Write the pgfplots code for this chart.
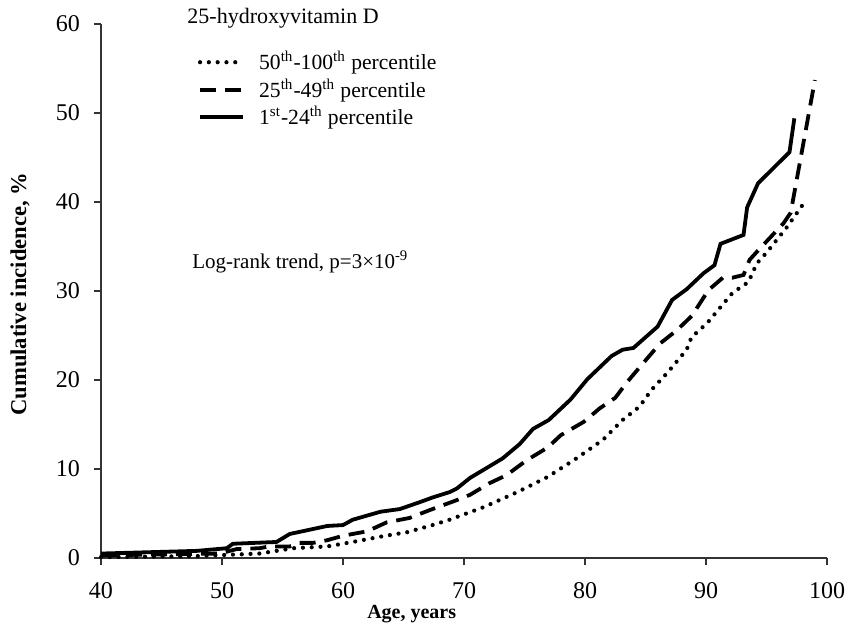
\documentclass[border=0pt]{standalone}
\usepackage{fontspec}
\setmainfont{Liberation Serif}
\usepackage{pgfplots}
\pgfplotsset{compat=1.18}

\begin{document}
\begin{tikzpicture}
\begin{axis}[
    scale only axis,
    width=363pt, height=267pt,
    xmin=40, xmax=100, ymin=0, ymax=60,
    xtick={40,50,...,100}, ytick={0,10,...,60},
    axis lines=left,
    axis line style={-, black!80, line width=0.9pt},
    tick style={black!80, line width=0.9pt},
    tick align=outside,
    major tick length=3.5pt,
    minor tick num=0,
    clip=false,
    /pgf/number format/assume math mode=true,
    tick label style={font=\fontsize{12}{14}\selectfont},
    xticklabel style={yshift=-5pt},
    yticklabel style={xshift=-3.5pt},
    xlabel={Age, years},
    ylabel={Cumulative incidence, \%},
    xlabel style={font=\fontsize{10}{12}\selectfont\bfseries,
        at={([yshift=-30pt]axis description cs:0.428,0)}, anchor=base},
    ylabel style={font=\fontsize{11.3}{13}\selectfont\bfseries,
        at={([xshift=-40.5pt]axis description cs:0,0.494)}, anchor=center},
    legend style={draw=none, fill=none, at={(0.133,0.953)}, anchor=north west,
        inner sep=0pt, font=\fontsize{10.8}{12}\selectfont, row sep=1pt,
        nodes={inner sep=1pt},
        /tikz/every odd column/.append style={column sep=1pt}},
    legend cell align=left,
    legend image code/.code={\draw[#1] (0pt,0pt) -- (21.5pt,0pt); \path (26.5pt,0pt);},
]
\addplot[black, line width=2.1pt, line cap=round, dash pattern=on 0pt off 4.4pt] coordinates {
(40,0.1) (47.6,0.2) (53.1,0.5) (55.9,1.1) (58.7,1.3) (60.8,1.8) (63.1,2.4)
(65.3,2.9) (67.4,3.7) (68.8,4.3) (69.4,4.6) (71.6,5.7) (74.4,7.4) (76.9,9.1)
(79.3,11.2) (81.5,13.3) (82.3,14.4) (83.1,15.5) (84.5,17.0) (85.5,18.9)
(86.8,20.8) (88.4,23.4) (88.8,24.8) (90.1,26.4) (91.7,29.0) (92.2,29.8)
(93.5,31.0) (94.2,33.1) (95.0,34.3) (96.7,37.2) (98.1,39.9)
};
\addlegendentry{50\textsuperscript{th}-100\textsuperscript{th} percentile}
\addplot[black, line width=1.9pt, dash pattern=on 8pt off 4.5pt] coordinates {
(40,0.3) (49.8,0.5) (51.2,1.0) (53.1,1.1) (53.9,1.3) (55.6,1.3) (56.4,1.7)
(57.5,1.7) (58.7,2.0) (60,2.5) (62,3.0) (63.6,4.0) (65.5,4.5) (67.2,5.4)
(68.8,6.2) (69.4,6.5) (70.5,7.1) (72.1,8.4) (73.5,9.3) (75.2,11.0) (76.9,12.4)
(78.0,13.8) (79.9,15.3) (81.2,16.8) (82.5,18.0) (83.5,19.8) (85.0,22.2)
(86.2,24.1) (87.6,25.6) (88.9,27.3) (89.3,28.2) (90.2,30.1) (91.4,31.5)
(92.2,31.5) (93.1,31.8) (93.6,33.5) (94.2,34.4) (96.4,37.6) (97.0,38.8)
(99.0,53.7)
};
\addlegendentry{25\textsuperscript{th}-49\textsuperscript{th} percentile}
\addplot[black, line width=1.9pt] coordinates {
(40,0.5) (47.9,0.8) (50.4,1.1) (50.9,1.6) (54.5,1.8) (55.6,2.7) (58.7,3.6)
(60,3.7) (60.8,4.3) (63.1,5.2) (64.7,5.5) (66.4,6.3) (67.4,6.8) (68.8,7.4)
(69.4,7.8) (70.5,9.0) (72.1,10.3) (73.2,11.2) (74.6,12.8) (75.7,14.5)
(77.0,15.5) (78.8,17.8) (80.2,20.1) (82.2,22.7) (83.1,23.4) (84.0,23.6)
(86.0,26.0) (87.2,29.0) (88.4,30.2) (89.8,32.0) (90.7,32.9) (91.2,35.3)
(93.1,36.3) (93.4,39.4) (94.3,42.1) (96.9,45.6) (97.3,49.4)
};
\addlegendentry{1\textsuperscript{st}-24\textsuperscript{th} percentile}

\node[anchor=base west, inner sep=0pt, font=\fontsize{11}{13}\selectfont]
    at (rel axis cs:0.1185,1) {25-hydroxyvitamin D};
\node[anchor=base west, inner sep=0pt, font=\fontsize{10.5}{12}\selectfont]
    at (rel axis cs:0.1253,0.543) {Log-rank trend, p=3×10\textsuperscript{-9}};

\coordinate (bl) at (rel axis cs:0,0);
\coordinate (tr) at (rel axis cs:1,1);
\end{axis}
\pgfresetboundingbox
\path[use as bounding box] ([xshift=-50.5pt,yshift=-33.5pt]bl) rectangle ([xshift=11pt,yshift=12pt]tr);
\end{tikzpicture}
\end{document}
